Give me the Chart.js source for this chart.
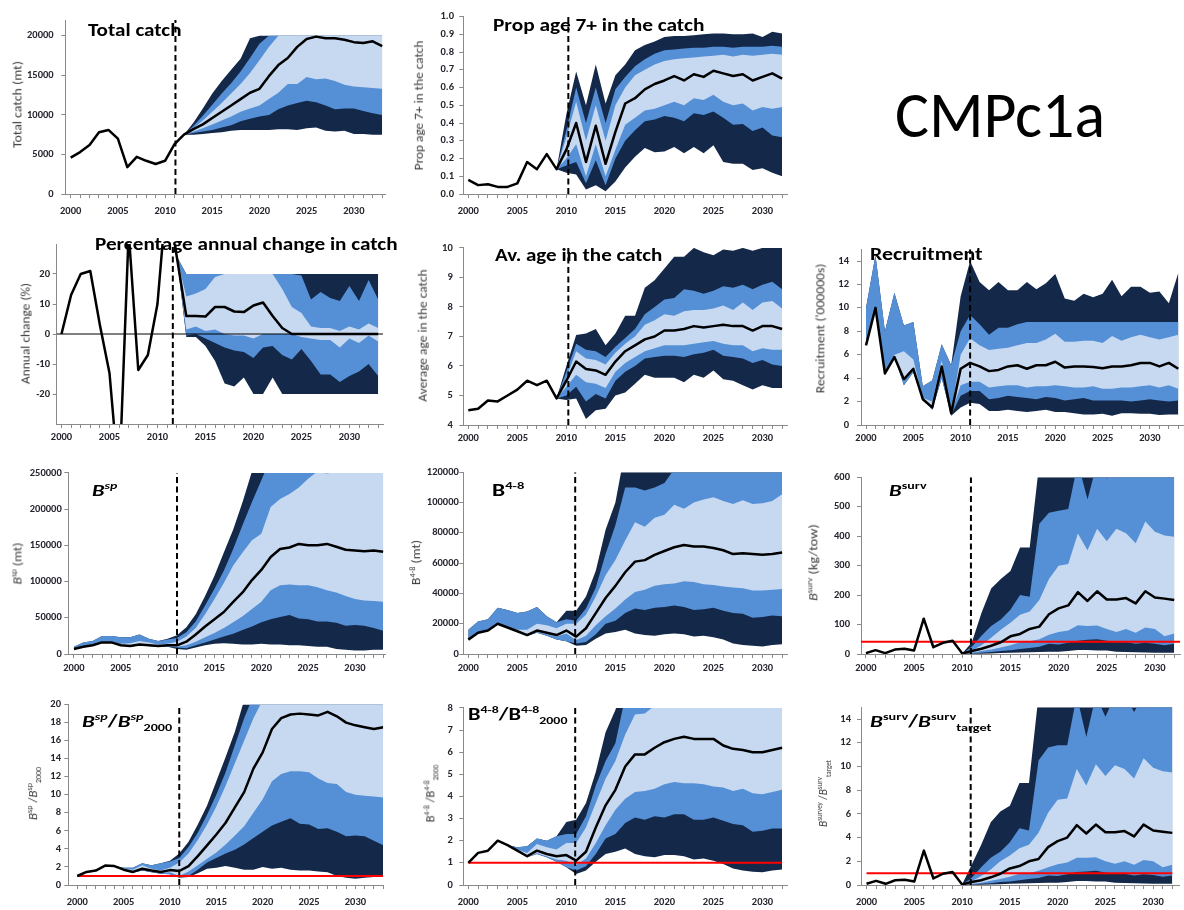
<!DOCTYPE html>
<html><head><meta charset="utf-8">
<script src="https://cdn.jsdelivr.net/npm/chart.js@4.4.1/dist/chart.umd.min.js"></script>
<style>
html,body{margin:0;padding:0;background:#fff;width:1184px;height:910px;overflow:hidden;position:relative;font-family:Carlito,Lato,sans-serif;}
canvas{position:absolute;}
.ttl{position:absolute;font-weight:bold;color:#000;white-space:nowrap;line-height:1;transform-origin:0 0;font-size:17px;}
.yt{position:absolute;white-space:nowrap;line-height:1;font-size:13px;color:#3a3a3a;}
sup,sub{font-size:0.62em;line-height:0;}
#big{position:absolute;white-space:nowrap;line-height:1;font-size:65px;color:#000;transform-origin:0 0;}
</style></head><body>
<div id="big">CMPc1a</div>
<script>
// ================= DATA =================
// Total catch (mt)
const catchMed=[4600,5300,6200,7800,8100,7000,3400,4700,4200,3800,4200,6300,7500,8200,8800,9600,10400,11200,12000,12800,13300,14900,16300,17200,18600,19600,19900,19700,19700,19500,19200,19100,19300,18700];
const catchP95=[7500,9000,10800,12700,14300,15700,17100,19700,20000,20000,20000,20000,20000,20000,20000,20000,20000,20000,20000,20000,20000,20000];
const catchP90=[7500,8600,9900,11300,12700,14000,15500,17200,19000,20000,20000,20000,20000,20000,20000,20000,20000,20000,20000,20000,20000,20000];
const catchP75=[7500,8300,9300,10400,11500,12700,13900,15300,16900,18600,20000,20000,20000,20000,20000,20000,20000,20000,20000,20000,20000,20000];
const catchP25=[7500,7900,8300,8800,9300,9800,10400,10800,11200,12000,12800,13900,13900,14800,14500,14600,14300,13800,13600,13500,13400,13300];
const catchP10=[7500,7700,7900,8100,8400,8700,9200,9500,9800,10000,10700,11200,11500,11800,11600,11200,10700,10800,10800,10500,10200,10000];
const catchP05=[7500,7500,7600,7700,7800,8000,8100,8100,8100,8100,8200,8200,8100,8300,8400,8000,7900,8000,7600,7600,7500,7500];
// Prop age 7+ in the catch
const prop7Med=[0.08,0.05,0.055,0.04,0.04,0.06,0.18,0.14,0.225,0.14,0.25,0.40,0.18,0.385,0.17,0.35,0.51,0.54,0.59,0.62,0.64,0.665,0.64,0.675,0.66,0.695,0.68,0.665,0.675,0.64,0.66,0.68,0.65];
const prop7P95=[0.14,0.45,0.69,0.5,0.73,0.51,0.67,0.73,0.81,0.84,0.86,0.885,0.89,0.89,0.895,0.9,0.905,0.905,0.9,0.9,0.905,0.885,0.915,0.905];
const prop7P90=[0.14,0.36,0.6,0.4,0.6,0.4,0.59,0.66,0.72,0.76,0.79,0.81,0.815,0.82,0.825,0.825,0.83,0.83,0.825,0.83,0.83,0.83,0.835,0.83];
const prop7P75=[0.14,0.32,0.52,0.3,0.5,0.3,0.5,0.6,0.67,0.7,0.73,0.75,0.76,0.765,0.77,0.775,0.78,0.785,0.775,0.785,0.78,0.785,0.79,0.785];
const prop7P25=[0.14,0.2,0.28,0.1,0.28,0.1,0.25,0.39,0.43,0.47,0.48,0.5,0.52,0.5,0.54,0.53,0.56,0.52,0.5,0.51,0.47,0.49,0.48,0.49];
const prop7P10=[0.14,0.16,0.18,0.06,0.19,0.05,0.2,0.3,0.36,0.41,0.42,0.44,0.43,0.41,0.455,0.445,0.465,0.43,0.39,0.395,0.355,0.375,0.33,0.32];
const prop7P05=[0.14,0.12,0.11,0.025,0.05,0.015,0.07,0.15,0.21,0.26,0.235,0.24,0.265,0.23,0.265,0.23,0.275,0.18,0.17,0.17,0.135,0.145,0.12,0.1];
// Percentage annual change in catch
const pctMed=[0,13,20,21,3,-13,-50,34,-12,-7,10,48,26,6,6,5.8,9,9,7.5,7.3,9.5,10.5,6,2,0,0,0,0,0,0,0,0,0,0];
const pctP95=[26,20,20,20,20,20,20,20,20,20,20,20,20,20,20,20,20,20,20,20,20,20];
const pctP90=[26,20,20,20,20,20,20,20,20,20,20,20,20,19.5,11.5,14,12,11,16,11,18,11.5];
const pctP75=[26,12.5,13.5,15,19,20,20,20,20,20,20,15,9,7,2.5,2,2,1,2.5,1.5,3.5,2];
const pctP25=[26,1.5,2.5,1,1.5,0,-0.5,-0.5,-1.5,0,0,0,0,-1,-1.5,-2,-2,-4.5,-1.5,-3,-0.5,-2.5];
const pctP10=[26,-0.5,0,-1.5,-3,-4.5,-5.5,-6,-8,-4.5,-4,-7,-8.5,-5,-9,-13.5,-13.5,-16,-14,-12.5,-10,-14];
const pctP05=[26,-1,-1,-4,-9,-16.5,-17.5,-14.5,-20,-20,-14.5,-20,-20,-20,-20,-20,-20,-20,-20,-20,-20,-20];
// Average age in the catch
const avAgeMed=[4.5,4.55,4.83,4.8,5.0,5.2,5.5,5.35,5.5,4.9,5.5,6.15,5.9,5.85,5.7,6.15,6.5,6.7,6.9,7.0,7.2,7.2,7.25,7.35,7.3,7.35,7.4,7.35,7.35,7.2,7.35,7.35,7.25];
const avAgeP95=[4.9,6.0,7.05,7.1,7.25,6.7,7.1,7.7,7.7,8.65,8.9,9.3,9.7,9.7,10,9.85,9.75,9.95,9.9,10,9.9,10,10,10];
const avAgeP90=[4.9,5.8,6.75,6.55,6.5,6.3,6.65,6.95,7.25,7.75,8.0,8.25,8.3,8.6,8.55,8.45,8.55,8.7,8.65,8.75,8.6,8.75,8.85,8.6];
const avAgeP75=[4.9,5.6,6.5,6.25,6.2,6.05,6.45,6.75,7.0,7.4,7.55,7.75,7.7,7.85,7.9,7.9,7.95,8.05,7.9,8.15,7.9,8.15,8.2,7.95];
const avAgeP25=[4.9,5.3,5.7,5.45,5.4,5.25,5.8,6.1,6.3,6.5,6.6,6.7,6.7,6.7,6.75,6.8,6.85,6.75,6.7,6.7,6.5,6.6,6.55,6.55];
const avAgeP10=[4.9,5.0,5.3,4.8,5.05,4.9,5.5,5.8,6.0,6.25,6.3,6.35,6.35,6.3,6.4,6.45,6.55,6.35,6.3,6.25,6.1,6.2,6.05,6.0];
const avAgeP05=[4.9,4.85,4.9,4.2,4.5,4.55,5.0,5.1,5.4,5.7,5.6,5.6,5.6,5.45,5.7,5.6,5.85,5.55,5.5,5.35,5.2,5.35,5.25,5.25];
// Recruitment ('000000s)
const recrMed=[6.8,10,4.4,5.8,3.9,4.8,2.2,1.5,5.0,1.0,4.8,5.3,5.0,4.6,4.7,5.0,5.1,4.8,5.1,5.1,5.4,4.9,5.0,5.0,4.95,4.85,5.0,5.0,5.1,5.3,5.3,5.0,5.3,4.8];
const recrP95=[10,14.5,8,11.3,8.5,8.8,3.3,3.8,6.9,5.1,11,14,12.2,11.5,12.2,11.5,11.5,12.2,11.6,12.1,12.9,10.8,10.6,11.2,10.9,11.2,12.4,11.0,11.8,11.8,11.3,11.4,10.4,13];
const recrP90=[10,14.5,8,11.3,8.5,8.8,3.3,3.8,6.9,5.1,8.0,9.4,8.6,7.7,8.3,8.3,8.6,8.8,8.8,8.8,8.8,8.8,8.8,8.8,8.8,8.8,8.8,8.8,8.8,8.8,8.8,8.8,8.8,8.8];
const recrP75=[6.8,10,4.4,6.0,6.3,5.6,2.3,2.0,5.5,1.1,6.0,7.4,6.8,6.4,6.5,6.6,6.8,7.0,7.0,7.3,7.8,7.1,7.1,7.2,7.2,7.0,7.6,7.2,7.5,7.7,7.5,7.3,7.5,7.7];
const recrP25=[6.8,10,4.4,5.8,3.7,4.8,2.2,1.5,4.9,1.0,3.4,3.7,3.7,3.2,3.3,3.4,3.4,3.2,3.3,3.3,3.4,3.3,3.2,3.2,3.3,3.1,3.1,3.2,3.2,3.3,3.4,3.2,3.4,3.1];
const recrP10=[6.8,10,4.4,5.8,3.4,4.5,2.2,1.3,4.0,0.85,2.5,2.9,2.9,2.2,2.3,2.5,2.4,2.3,2.2,2.4,2.3,2.1,2.2,2.3,2.1,2.1,2.1,2.1,2.0,2.1,2.2,2.1,2.0,2.1];
const recrP05=[6.8,10,4.4,5.8,3.4,4.5,2.2,1.3,4.0,0.8,1.5,1.9,1.8,1.2,1.2,1.3,1.2,1.1,1.2,1.3,1.1,1.1,1.0,0.9,0.9,0.95,0.8,1.0,1.0,0.95,0.95,0.85,0.9,0.9];
// Bsp (mt)
const bspMed=[7000,10000,12000,16000,16000,12000,11000,13000,12000,11000,12000,12000,17000,27000,38000,48000,58000,72000,85000,102000,116000,134000,145000,147000,152000,150000,150000,152000,148000,144000,143000,142000,143000,141000];
const bspP95=[10000,16000,18000,25000,25000,23000,23000,27000,21000,18000,21000,26000,37000,55000,80000,108000,140000,172000,210000,252000,320000,320000,320000,320000,320000,320000,320000,320000,320000,320000,320000,320000,320000,320000];
const bspP90=[10000,16000,18000,25000,25000,23000,23000,27000,21000,18000,20000,22000,30000,45000,67000,90000,115000,145000,178000,210000,240000,270000,300000,300000,300000,300000,300000,300000,300000,300000,300000,300000,300000,300000];
const bspP75=[7000,10000,12000,17000,17000,14000,15000,18000,16000,13000,14000,17000,24000,36000,55000,76000,98000,122000,140000,157000,166000,203000,214000,221000,230000,242000,252000,249000,252000,260000,260000,260000,260000,260000];
const bspP25=[7000,10000,12000,16000,16000,12000,10500,12500,11500,10500,11500,10000,12000,17000,23000,29000,36000,44000,52000,62000,72000,88000,95000,96000,95000,95000,92000,88000,85000,80000,76000,74000,73000,72000];
const bspP10=[7000,10000,12000,16000,16000,12000,10000,12000,11000,10000,10000,9000,8000,12000,16000,20000,24000,28000,33000,38000,44000,48000,51000,54000,49000,48000,45000,45000,43000,39000,40000,39000,36000,32000];
const bspP05=[7000,10000,12000,16000,16000,12000,10000,12000,11000,10000,10000,7000,6000,9000,12000,14000,15000,14000,13000,13000,14000,13000,13000,12000,12000,11000,10000,10000,7000,6000,5000,5000,6000,6000];
// B4-8 (mt)
const b48Med=[9500,14000,15500,20000,17500,15000,12500,15500,14000,12500,15500,11500,17000,27000,37000,45000,54000,61000,62000,65500,68000,70500,72000,71000,71000,70000,68500,66000,66500,66000,65500,66000,67000];
const b48P95=[16000,21500,23000,30500,29000,27000,28000,31000,25000,21000,28500,28500,38000,55000,82000,100000,135000,150000,150000,150000,150000,150000,150000,150000,150000,150000,150000,150000,150000,150000,150000,150000,150000];
const b48P90=[16000,21500,23000,30500,29000,27000,28000,31000,25000,21000,23000,22000,30000,44000,66000,85000,110000,110000,108000,110000,113000,122000,125000,125000,125000,125000,125000,125000,125000,125000,125000,125000,125000];
const b48P75=[9500,14000,15500,20000,17500,16000,16000,20000,19000,17000,20000,20000,26000,38000,52000,62000,75000,87000,84000,90000,92000,98500,96000,100000,102000,103500,101000,99000,101500,99000,99500,101000,105500];
const b48P25=[9500,14000,15500,20000,17500,15000,12000,14500,13000,11500,13500,9000,12000,19000,25000,30000,36000,41000,42500,45000,46000,46500,48000,47500,46000,45500,44500,44000,43500,42000,42000,42500,43000];
const b48P10=[9500,14000,15500,20000,17500,15000,12000,14000,12000,9500,8500,7000,8000,13000,20000,22000,27000,30000,29000,30500,31000,32000,31000,29000,29500,30500,28500,27000,26500,24000,24500,25500,25000];
const b48P05=[9500,14000,15500,20000,17500,15000,12000,14000,12000,9500,8500,5500,6000,10000,13500,14500,16000,13500,12500,12000,13000,13500,13000,11500,12000,11000,9500,7000,6000,5500,5000,6000,6500];
// Bsurv (kg/tow)
const bsurvMed=[3,13,3,15,18,12,120,23,38,45,2,10,18,28,40,60,68,85,93,135,155,165,210,180,213,185,185,190,172,213,192,188,183];
const bsurvP95=[2,40,140,222,255,282,362,362,650,700,700,700,700,700,700,700,700,700,700,700,700,700,700];
const bsurvP90=[2,25,62,95,117,150,200,194,442,480,486,492,650,525,650,595,650,650,650,650,650,650,650];
const bsurvP75=[2,12,30,55,82,106,133,144,183,255,300,306,409,352,425,383,425,410,376,450,415,402,398];
const bsurvP25=[2,5,10,15,22,30,40,43,50,65,75,80,98,95,97,85,75,85,72,90,85,60,70];
const bsurvP10=[2,2,4,7,10,13,17,20,25,35,32,38,45,48,50,45,40,40,35,38,35,30,35];
const bsurvP05=[2,1,1,2,3,4,5,6,7,8,8,10,14,14,12,12,8,7,6,5,4,4,4];
const bsurvTarget=42;
// Bsp / Bsp2000
const bspRelMed=[1.0,1.45,1.6,2.15,2.1,1.7,1.45,1.8,1.6,1.45,1.65,1.55,2.1,3.2,4.4,5.6,6.9,8.6,10.3,12.9,14.7,17.3,18.5,18.9,19.0,18.9,18.8,19.2,18.7,18.0,17.7,17.5,17.3,17.5];
const bspRelP95=[1.0,1.5,1.7,2.2,2.1,1.9,1.9,2.4,2.2,2.4,2.7,3.5,4.8,6.7,8.8,11.5,14.2,17,20.5,26,26,26,26,26,26,26,26,26,26,26,26,26,26,26];
const bspRelP90=[1.0,1.5,1.7,2.2,2.1,1.9,1.9,2.4,2.2,2.4,2.6,3.0,4.2,5.8,7.8,10,12.5,15.5,18.5,21,25,25,25,25,25,25,25,25,25,25,25,25,25,25];
const bspRelP75=[1.0,1.45,1.6,2.15,2.1,1.8,1.7,2.2,1.8,1.6,1.9,2.5,3.5,5.0,6.7,8.7,11,13.5,16,18.5,20.5,23,23,23,23,23,23,23,23,23,23,23,23,23];
const bspRelP25=[1.0,1.45,1.6,2.15,2.1,1.7,1.4,1.7,1.5,1.35,1.4,1.0,1.5,2.2,2.9,3.6,4.5,5.5,6.5,8.0,9.5,11.5,12.3,12.6,12.6,12.5,11.8,11.3,11.2,10.3,10.0,9.9,9.8,9.7];
const bspRelP10=[1.0,1.45,1.6,2.15,2.1,1.7,1.35,1.6,1.4,1.25,1.2,0.9,1.0,1.7,2.5,3.0,3.5,3.9,4.5,5.2,5.9,6.6,7.0,7.4,6.8,6.7,6.2,6.3,5.9,5.4,5.5,5.4,4.9,4.4];
const bspRelP05=[1.0,1.45,1.6,2.15,2.1,1.7,1.35,1.6,1.4,1.25,1.2,0.8,0.9,1.3,1.8,1.9,2.1,1.9,1.7,1.7,2.0,1.8,1.9,1.7,1.6,1.6,1.5,1.4,1.0,0.8,0.7,0.8,0.9,0.9];
// B4-8 / B4-8 2000
const b48RelMed=[1.0,1.45,1.55,2.0,1.8,1.55,1.3,1.55,1.4,1.3,1.35,1.1,1.5,2.6,3.6,4.3,5.35,5.9,5.9,6.2,6.45,6.6,6.7,6.6,6.6,6.6,6.3,6.15,6.1,6.0,6.0,6.1,6.2];
const b48RelP95=[1.0,1.45,1.55,2.0,1.8,1.7,1.75,2.1,2.0,2.2,2.85,2.95,3.7,5.1,6.9,7.9,9.5,10,10,10,10,10,10,10,10,10,10,10,10,10,10,10,10];
const b48RelP90=[1.0,1.45,1.55,2.0,1.8,1.7,1.75,2.1,2.0,2.2,2.3,2.3,3.1,4.5,5.6,6.4,8.5,9.5,9.5,9.5,9.5,9.5,9.5,9.5,9.5,9.5,9.5,9.5,9.5,9.5,9.5,9.5,9.5];
const b48RelP75=[1.0,1.45,1.55,2.0,1.8,1.6,1.45,1.85,1.7,1.6,1.9,1.9,2.6,3.7,4.8,5.6,6.8,7.7,7.75,8.1,8.5,8.5,8.5,8.5,8.5,8.5,8.5,8.5,8.5,8.5,8.5,8.5,8.5];
const b48RelP25=[1.0,1.45,1.55,2.0,1.8,1.55,1.25,1.45,1.3,1.15,1.1,0.9,1.2,1.9,2.7,3.4,3.9,4.2,4.25,4.35,4.55,4.65,4.6,4.6,4.55,4.45,4.4,4.25,4.35,4.15,4.1,4.2,4.3];
const b48RelP10=[1.0,1.45,1.55,2.0,1.8,1.55,1.25,1.4,1.25,1.05,0.8,0.65,0.85,1.4,2.1,2.3,2.8,3.05,2.95,3.1,3.05,3.2,3.2,2.95,2.95,3.05,2.9,2.75,2.7,2.4,2.45,2.55,2.55];
const b48RelP05=[1.0,1.45,1.55,2.0,1.8,1.55,1.25,1.4,1.25,1.05,0.8,0.5,0.65,1.05,1.4,1.5,1.65,1.4,1.3,1.25,1.35,1.35,1.3,1.15,1.2,1.1,0.95,0.75,0.65,0.6,0.58,0.65,0.7];
// Bsurv / Bsurv target
const bsurvRelMed=[0.1,0.35,0.1,0.4,0.45,0.3,2.9,0.55,0.95,1.1,0.05,0.25,0.4,0.65,0.95,1.4,1.6,2.0,2.2,3.2,3.7,4.0,5.05,4.35,5.1,4.45,4.45,4.55,4.1,5.1,4.6,4.5,4.4];
const bsurvRelP95=[0.05,1.7,3.4,5.3,6.2,6.7,8.6,8.6,16,17,17,17,17,17,17,17,17,17,17,17,17,17,17];
const bsurvRelP90=[0.05,0.6,1.5,2.3,2.8,3.6,4.8,4.6,10.5,11.6,11.8,11.8,16,12.5,16,14.2,16,16,14.6,16,16,16,16];
const bsurvRelP75=[0.05,0.3,0.75,1.3,2.0,2.5,3.1,3.4,4.4,6.1,7.2,7.3,9.8,8.4,10.2,9.2,10.1,9.8,9.0,10.7,9.9,9.6,9.5];
const bsurvRelP25=[0.05,0.1,0.2,0.35,0.5,0.7,0.95,1.0,1.2,1.5,1.75,1.9,2.3,2.3,2.35,2.0,1.8,2.0,1.7,2.1,2.0,1.5,1.7];
const bsurvRelP10=[0.05,0.05,0.1,0.15,0.25,0.3,0.4,0.5,0.6,0.8,0.75,0.9,1.1,1.15,1.2,1.05,0.95,0.95,0.8,0.9,0.85,0.7,0.8];
const bsurvRelP05=[0.05,0.02,0.03,0.05,0.07,0.1,0.12,0.15,0.17,0.2,0.2,0.25,0.33,0.33,0.3,0.3,0.2,0.17,0.15,0.12,0.1,0.1,0.1];
const ratioRef=1;
const pctRef=0;
// year of the dashed "projection start" line in each panel
const projLine=[2011.1,2010.2,2011.6,2010.2,2011.0,2011.0,2010.9,2010.9,2011.0,2010.9,2010.9];
// first year of the medians / of the percentile bands
const medStart=[2000,2000,2000,2000,2000,2000,2000,2000,2000,2000,2000];
const bandStart=[2012,2009,2012,2009,2000,2000,2000,2010,2000,2000,2010];

// ================= STYLE / LAYOUT =================
const NAVY='#14294a', MID='#5590d6', LIGHT='#c6d9f1', AXIS='#8a8a8a', TICK='#262630';
const FONT="Carlito, Lato, sans-serif";

const panels=[
 {med:catchMed,q:[catchP05,catchP10,catchP25,catchP75,catchP90,catchP95],
  L:65.3,T:14,R:385,B:194,xMin:1999.43,xMax:2033.3,yMin:0,yMax:22000,yFrom:0,yTo:20000,yStep:5000,dec:0,yGap:7.7,xGap:7.2,
  title:'Total catch',tx:88.3,tb:37.3,tw:93,yt:'Total catch (mt)',yx:17,yy:104,yl:87},
 {med:prop7Med,q:[prop7P05,prop7P10,prop7P25,prop7P75,prop7P90,prop7P95],
  L:463.3,T:13.3,R:786.7,B:193.7,xMin:1999.49,xMax:2032.5,yMin:0,yMax:1,yFrom:0,yTo:1,yStep:0.1,dec:1,yGap:5.3,xGap:7.2,
  title:'Prop age 7+ in the catch',tx:493.3,tb:31.7,tw:211,yt:'Prop age 7+ in the catch',yx:418,yy:105,yl:130},
 {med:pctMed,q:[pctP05,pctP10,pctP25,pctP75,pctP90,pctP95],ref:pctRef,refColor:'#000',refW:1,refFull:true,
  L:56.7,T:243.3,R:383,B:424,xMin:1999.5,xMax:2033.5,yMin:-30,yMax:30,yFrom:-20,yTo:20,yStep:10,dec:0,yGap:2.7,xGap:3.5,
  title:'Percentage annual change in catch',tx:95,tb:251,tw:303,yt:'Annual change (%)',yx:25,yy:333,yl:101},
 {med:avAgeMed,q:[avAgeP05,avAgeP10,avAgeP25,avAgeP75,avAgeP90,avAgeP95],
  L:463.3,T:243.3,R:786.7,B:425,xMin:1999.49,xMax:2032.5,yMin:4,yMax:10,yFrom:4,yTo:10,yStep:1,dec:0,yGap:6.6,xGap:3.5,
  title:'Av. age in the catch',tx:495,tb:261.7,tw:168,yt:'Average age in the catch',yx:422,yy:335,yl:132},
 {med:recrMed,q:[recrP05,recrP10,recrP25,recrP75,recrP90,recrP95],
  L:861,T:243.3,R:1184,B:425,xMin:1999.47,xMax:2033.6,yMin:0,yMax:15,yFrom:0,yTo:14,yStep:2,dec:0,yGap:8,xGap:3.5,
  title:'Recruitment',tx:870,tb:260.7,tw:112,yt:"Recruitment ('000000s)",yx:820,yy:328,yl:130},
 {med:bspMed,q:[bspP05,bspP10,bspP25,bspP75,bspP90,bspP95],
  L:68.3,T:472.3,R:385,B:653.7,xMin:1999.4,xMax:2033.2,yMin:0,yMax:250000,yFrom:0,yTo:250000,yStep:50000,dec:0,yGap:2.6,xGap:3.8,
  title:'<i>B</i><sup><i>sp</i></sup>',tx:91.7,tb:496.7,tw:25,yt:'<i>B</i><sup>sp</sup> (mt)',yx:17,yy:563,yl:42},
 {med:b48Med,q:[b48P05,b48P10,b48P25,b48P75,b48P90,b48P95],
  L:463.3,T:472.3,R:786.7,B:653.7,xMin:1999.49,xMax:2032.5,yMin:0,yMax:120000,yFrom:0,yTo:120000,yStep:20000,dec:0,yGap:0.5,xGap:3.8,
  title:'B<sup>4-8</sup>',tx:491.7,tb:497.3,tw:31.7,yt:'B<sup>4-8</sup> (mt)',yx:415,yy:562,yl:45},
 {med:bsurvMed,q:[bsurvP05,bsurvP10,bsurvP25,bsurvP75,bsurvP90,bsurvP95],ref:bsurvTarget,refColor:'#ff0000',refW:2,refFull:true,
  L:861,T:472.3,R:1180,B:653.7,xMin:1999.49,xMax:2032.6,yMin:0,yMax:600,yFrom:0,yTo:600,yStep:100,dec:0,yGap:7,xGap:3.8,
  title:'<i>B</i><sup>surv</sup>',tx:889.3,tb:496.7,tw:37.3,yt:'<i>B</i><sup>surv</sup> (kg/tow)',yx:813,yy:562,yl:77},
 {med:bspRelMed,q:[bspRelP05,bspRelP10,bspRelP25,bspRelP75,bspRelP90,bspRelP95],ref:ratioRef,refColor:'#ff0000',refW:2,
  L:68.3,T:703,R:383.3,B:884.7,xMin:1999.03,xMax:2033,yMin:0,yMax:20,yFrom:0,yTo:20,yStep:2,dec:0,yGap:3.3,xGap:6.8,
  title:'<i>B</i><sup><i>sp</i></sup>/<i>B</i><sup><i>sp</i></sup><sub>2000</sub>',tx:81.7,tb:727.7,tw:90,
  yt:'<i>B</i><sup>sp</sup> /<i>B</i><sup>sp</sup><sub>2000</sub>',yx:32,yy:793,yl:53},
 {med:b48RelMed,q:[b48RelP05,b48RelP10,b48RelP25,b48RelP75,b48RelP90,b48RelP95],ref:ratioRef,refColor:'#ff0000',refW:2,
  L:463.3,T:703,R:786.7,B:884.7,xMin:1999.49,xMax:2032.5,yMin:0,yMax:8,yFrom:0,yTo:8,yStep:1,dec:0,yGap:6.6,xGap:6.8,
  title:'B<sup>4-8</sup>/B<sup>4-8</sup><sub>2000</sub>',tx:468.3,tb:721,tw:100,
  yt:'B<sup>4-8</sup> /B<sup>4-8</sup><sub>2000</sub>',yx:430,yy:793,yl:58},
 {med:bsurvRelMed,q:[bsurvRelP05,bsurvRelP10,bsurvRelP25,bsurvRelP75,bsurvRelP90,bsurvRelP95],ref:ratioRef,refColor:'#ff0000',refW:2,
  L:861,T:703,R:1179,B:884.7,xMin:1999.42,xMax:2032.7,yMin:0,yMax:15,yFrom:0,yTo:14,yStep:2,dec:0,yGap:6,xGap:6.8,
  title:'<i>B</i><sup>surv</sup>/<i>B</i><sup>surv</sup><sub>target</sub>',tx:870,tb:727.7,tw:121.7,
  yt:'<i>B</i><sup>survey</sup> /<i>B</i><sup>surv</sup><sub>target</sub>',yx:822,yy:793,yl:67}
];

function series(start,arr){return arr.map((v,i)=>({x:start+i,y:v}));}

function makePanel(p,idx){
  const padTop=8,padRight=6,xH=26;
  const left=Math.round(p.L-52), top=Math.round(p.T-padTop);
  const yW=p.L-left, pt=p.T-top;
  const w=Math.ceil(p.R-left+padRight), h=Math.ceil(p.B-top+xH);
  const c=document.createElement('canvas');
  c.width=w;c.height=h;c.style.left=left+'px';c.style.top=top+'px';c.style.width=w+'px';c.style.height=h+'px';
  document.body.appendChild(c);
  const ms=medStart[idx], bs=bandStart[idx], proj=projLine[idx];
  const [q05,q10,q25,q75,q90,q95]=p.q;
  const hid={borderColor:'rgba(0,0,0,0)',borderWidth:0,pointRadius:0,tension:0};
  const ds=[
    {...hid,data:series(bs,q05),fill:false,order:9},
    {...hid,data:series(bs,q95),fill:'-1',backgroundColor:NAVY,order:8},
    {...hid,data:series(bs,q10),fill:false,order:7},
    {...hid,data:series(bs,q90),fill:'-1',backgroundColor:MID,order:6},
    {...hid,data:series(bs,q25),fill:false,order:5},
    {...hid,data:series(bs,q75),fill:'-1',backgroundColor:LIGHT,order:4}
  ];
  if(p.ref!==undefined){
    const x0=p.refFull?p.xMin:ms, x1=p.refFull?p.xMax:ms+p.med.length-1;
    ds.push({data:[{x:x0,y:p.ref},{x:x1,y:p.ref}],borderColor:p.refColor,borderWidth:p.refW,pointRadius:0,fill:false,order:3});
  }
  ds.push({data:[{x:proj,y:p.yMin},{x:proj,y:p.yMax}],borderColor:'#000',borderWidth:2,borderDash:[6,3.5],pointRadius:0,fill:false,order:1});
  ds.push({data:series(ms,p.med),borderColor:'#000',borderWidth:2.5,pointRadius:0,fill:false,tension:0,order:0,borderJoinStyle:'round'});
  const tickFont={family:FONT,size:10.5,weight:'bold'};
  new Chart(c,{type:'line',data:{datasets:ds},options:{
    responsive:false,animation:false,events:[],
    layout:{padding:{top:pt,right:padRight,left:0,bottom:0}},
    plugins:{legend:{display:false},tooltip:{enabled:false}},
    scales:{
      x:{type:'linear',min:p.xMin,max:p.xMax,
        afterBuildTicks(s){const t=[];for(let y=Math.ceil(p.xMin);y<=p.xMax;y++)t.push({value:y});s.ticks=t;},
        afterFit(s){s.height=xH;},
        ticks:{autoSkip:false,maxRotation:0,minRotation:0,padding:p.xGap,color:TICK,font:tickFont,
          callback:v=>(v%5===0?String(v):'')},
        grid:{drawOnChartArea:false,drawTicks:true,tickLength:4,color:AXIS},
        border:{display:true,color:AXIS,width:1}},
      y:{type:'linear',min:p.yMin,max:p.yMax,
        afterBuildTicks(s){const t=[];const n=Math.round((p.yTo-p.yFrom)/p.yStep);for(let i=0;i<=n;i++)t.push({value:+(p.yFrom+i*p.yStep).toFixed(6)});s.ticks=t;},
        afterFit(s){s.width=yW;},
        ticks:{padding:p.yGap,color:TICK,font:tickFont,callback:v=>Number(v).toFixed(p.dec)},
        grid:{drawOnChartArea:false,drawTicks:true,tickLength:4,color:AXIS},
        border:{display:true,color:AXIS,width:1}}
    }}});
  // title
  const t=document.createElement('div');t.className='ttl';t.innerHTML=p.title;document.body.appendChild(t);
  const fs=17;t.style.left=p.tx+'px';t.style.top=(p.tb-0.887*fs)+'px';
  const tw0=t.offsetWidth; if(tw0>0)t.style.transform='scaleX('+(p.tw/tw0).toFixed(3)+')';
  // y-axis title
  const y=document.createElement('div');y.className='yt';y.innerHTML=p.yt;document.body.appendChild(y);
  const yw0=y.offsetWidth,yh0=y.offsetHeight;
  y.style.left=(p.yx-yw0/2)+'px';y.style.top=(p.yy-yh0/2)+'px';
  y.style.transform='rotate(-90deg) scaleX('+(p.yl/yw0).toFixed(3)+')';
}
panels.forEach(makePanel);

const big=document.getElementById('big');
big.style.left='895px';big.style.top=(140-0.887*65)+'px';
const bw=big.offsetWidth; big.style.transform='scaleX('+(210/bw).toFixed(3)+')';
</script>
</body></html>
